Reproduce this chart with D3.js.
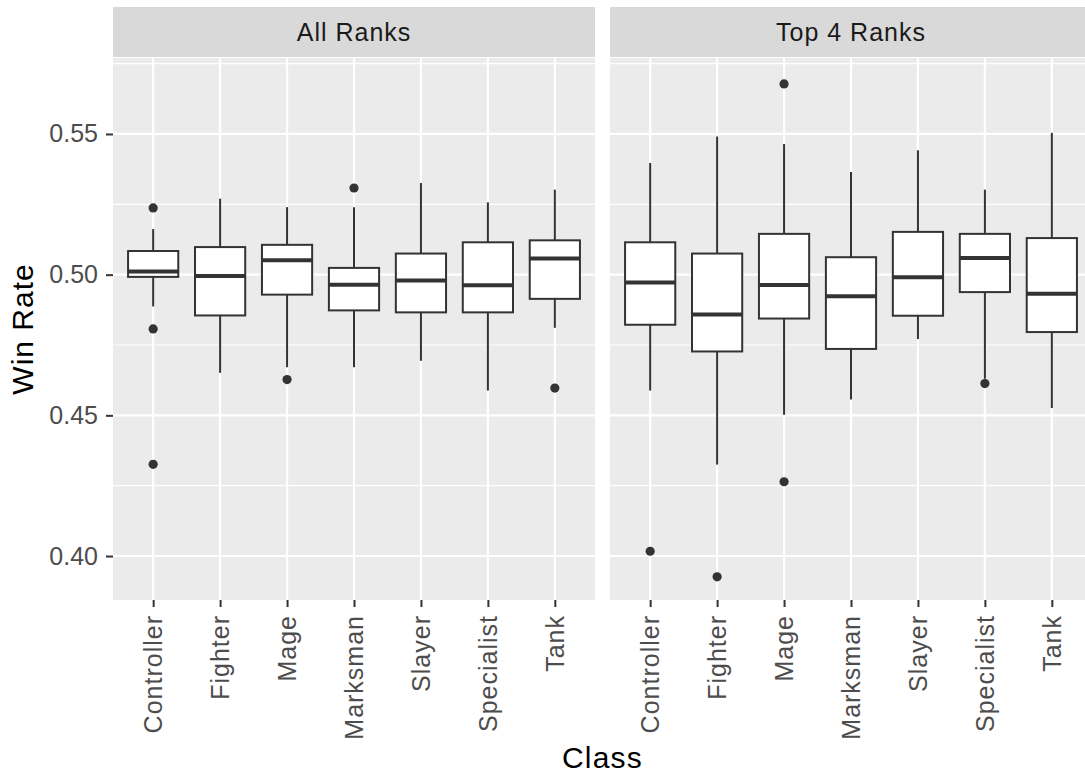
<!DOCTYPE html>
<html>
<head>
<meta charset="utf-8">
<script src="https://cdn.jsdelivr.net/npm/d3@7"></script>
<style>
  html, body { margin: 0; padding: 0; background: #ffffff; }
  svg { display: block; }
  text { font-family: "Liberation Sans", Arial, sans-serif; }
</style>
</head>
<body>
<svg id="chart" width="1085" height="776"></svg>
<script>
// ---- data ----
const categories = ["Controller", "Fighter", "Mage", "Marksman", "Slayer", "Specialist", "Tank"];
const facets = ["All Ranks", "Top 4 Ranks"];
const yTicks = [0.40, 0.45, 0.50, 0.55];
const yMinorTicks = [0.425, 0.475, 0.525, 0.575];

const allLow      = [0.4887, 0.4651, 0.4671, 0.4671, 0.4694, 0.4588, 0.4811];
const allQ1       = [0.4992, 0.4855, 0.4929, 0.4873, 0.4866, 0.4866, 0.4914];
const allMedian   = [0.5011, 0.4995, 0.5051, 0.4964, 0.4979, 0.4962, 0.5057];
const allQ3       = [0.5084, 0.5098, 0.5106, 0.5024, 0.5075, 0.5115, 0.5122];
const allHigh     = [0.5162, 0.5270, 0.5240, 0.5240, 0.5326, 0.5257, 0.5302];
const allOutliers = [[0.5237, 0.4807, 0.4326], [], [0.4627], [0.5308], [], [], [0.4597]];

const top4Low      = [0.4588, 0.4325, 0.4502, 0.4556, 0.4771, 0.4630, 0.4526];
const top4Q1       = [0.4822, 0.4727, 0.4844, 0.4736, 0.4854, 0.4938, 0.4796];
const top4Median   = [0.4972, 0.4858, 0.4963, 0.4923, 0.4991, 0.5059, 0.4932];
const top4Q3       = [0.5115, 0.5075, 0.5145, 0.5062, 0.5152, 0.5145, 0.5130];
const top4High     = [0.5397, 0.5491, 0.5464, 0.5365, 0.5442, 0.5302, 0.5504];
const top4Outliers = [[0.4017], [0.3926], [0.5678, 0.4264], [], [], [0.4613], []];

const facetData = [
  { name: facets[0], low: allLow, q1: allQ1, med: allMedian, q3: allQ3, high: allHigh, out: allOutliers },
  { name: facets[1], low: top4Low, q1: top4Q1, med: top4Median, q3: top4Q3, high: top4High, out: top4Outliers }
];

// ---- layout ----
const svg = d3.select("#chart");
const plotTop = 58, plotBottom = 600;
const stripTop = 7, stripBottom = 57;
const panels = [[113, 595], [610, 1092]];

const y = d3.scaleLinear().domain([0.38437, 0.5770]).range([plotBottom, plotTop]);

const tickColor = "#333333", labelColor = "#4D4D4D";

facetData.forEach((fd, pi) => {
  const [x0, x1] = panels[pi];
  const x = d3.scalePoint().domain(categories).range([x0, x1]).padding(0.6);
  const step = x.step();
  const g = svg.append("g");

  // strip
  g.append("rect").attr("x", x0).attr("y", stripTop).attr("width", x1 - x0).attr("height", stripBottom - stripTop).attr("fill", "#D9D9D9");
  g.append("text").attr("x", (x0 + x1) / 2).attr("y", (stripTop + stripBottom) / 2).attr("dy", "0.35em")
    .attr("text-anchor", "middle").attr("font-size", 25).attr("letter-spacing", 1).attr("fill", "#1A1A1A").text(fd.name);

  // panel bg
  g.append("rect").attr("x", x0).attr("y", plotTop).attr("width", x1 - x0).attr("height", plotBottom - plotTop).attr("fill", "#EBEBEB");

  // grid
  g.selectAll(".minor").data(yMinorTicks).join("line")
    .attr("x1", x0).attr("x2", x1).attr("y1", d => y(d)).attr("y2", d => y(d))
    .attr("stroke", "#ffffff").attr("stroke-width", 1.2);
  g.selectAll(".major").data(yTicks).join("line")
    .attr("x1", x0).attr("x2", x1).attr("y1", d => y(d)).attr("y2", d => y(d))
    .attr("stroke", "#ffffff").attr("stroke-width", 2.2);
  g.selectAll(".vmajor").data(categories).join("line")
    .attr("x1", d => x(d)).attr("x2", d => x(d)).attr("y1", plotTop).attr("y2", plotBottom)
    .attr("stroke", "#ffffff").attr("stroke-width", 2.2);

  // boxplots
  const bw = step * 0.75;
  categories.forEach((c, i) => {
    const cx = x(c);
    const bg = g.append("g");
    bg.append("line").attr("x1", cx).attr("x2", cx).attr("y1", y(fd.high[i])).attr("y2", y(fd.q3[i]))
      .attr("stroke", tickColor).attr("stroke-width", 2);
    bg.append("line").attr("x1", cx).attr("x2", cx).attr("y1", y(fd.q1[i])).attr("y2", y(fd.low[i]))
      .attr("stroke", tickColor).attr("stroke-width", 2);
    bg.append("rect").attr("x", cx - bw / 2).attr("y", y(fd.q3[i])).attr("width", bw)
      .attr("height", y(fd.q1[i]) - y(fd.q3[i]))
      .attr("fill", "#ffffff").attr("stroke", tickColor).attr("stroke-width", 2);
    bg.append("line").attr("x1", cx - bw / 2).attr("x2", cx + bw / 2).attr("y1", y(fd.med[i])).attr("y2", y(fd.med[i]))
      .attr("stroke", tickColor).attr("stroke-width", 4);
    fd.out[i].forEach(v => {
      bg.append("circle").attr("cx", cx).attr("cy", y(v)).attr("r", 4.6).attr("fill", tickColor);
    });
  });

  // x axis
  const xAxis = d3.axisBottom(x).tickSize(7).tickPadding(0);
  const ax = g.append("g").attr("transform", `translate(0,${plotBottom})`).call(xAxis);
  ax.select(".domain").remove();
  ax.selectAll(".tick line").attr("stroke", tickColor).attr("stroke-width", 2);
  ax.selectAll(".tick text")
    .attr("font-size", 25).attr("letter-spacing", 1).attr("fill", labelColor)
    .attr("text-anchor", "end")
    .attr("transform", "translate(0,15) rotate(-90)")
    .attr("x", 0).attr("y", 0).attr("dy", "0.35em");
});

// y axis
const yAxis = d3.axisLeft(y).tickValues(yTicks).tickFormat(d3.format(".2f")).tickSize(7).tickPadding(8);
const ay = svg.append("g").attr("transform", `translate(${panels[0][0]},0)`).call(yAxis);
ay.select(".domain").remove();
ay.selectAll(".tick line").attr("stroke", tickColor).attr("stroke-width", 2);
ay.selectAll(".tick text").attr("font-size", 25).attr("fill", labelColor);

// axis titles
svg.append("text").attr("x", (panels[0][0] + panels[1][1]) / 2).attr("y", 768)
  .attr("text-anchor", "middle").attr("font-size", 30).attr("letter-spacing", 1.2).attr("fill", "#000000").text("Class");
svg.append("text").attr("transform", `translate(33,${(plotTop + plotBottom) / 2}) rotate(-90)`)
  .attr("text-anchor", "middle").attr("font-size", 30).attr("letter-spacing", 1).attr("fill", "#000000").text("Win Rate");
</script>
</body>
</html>
